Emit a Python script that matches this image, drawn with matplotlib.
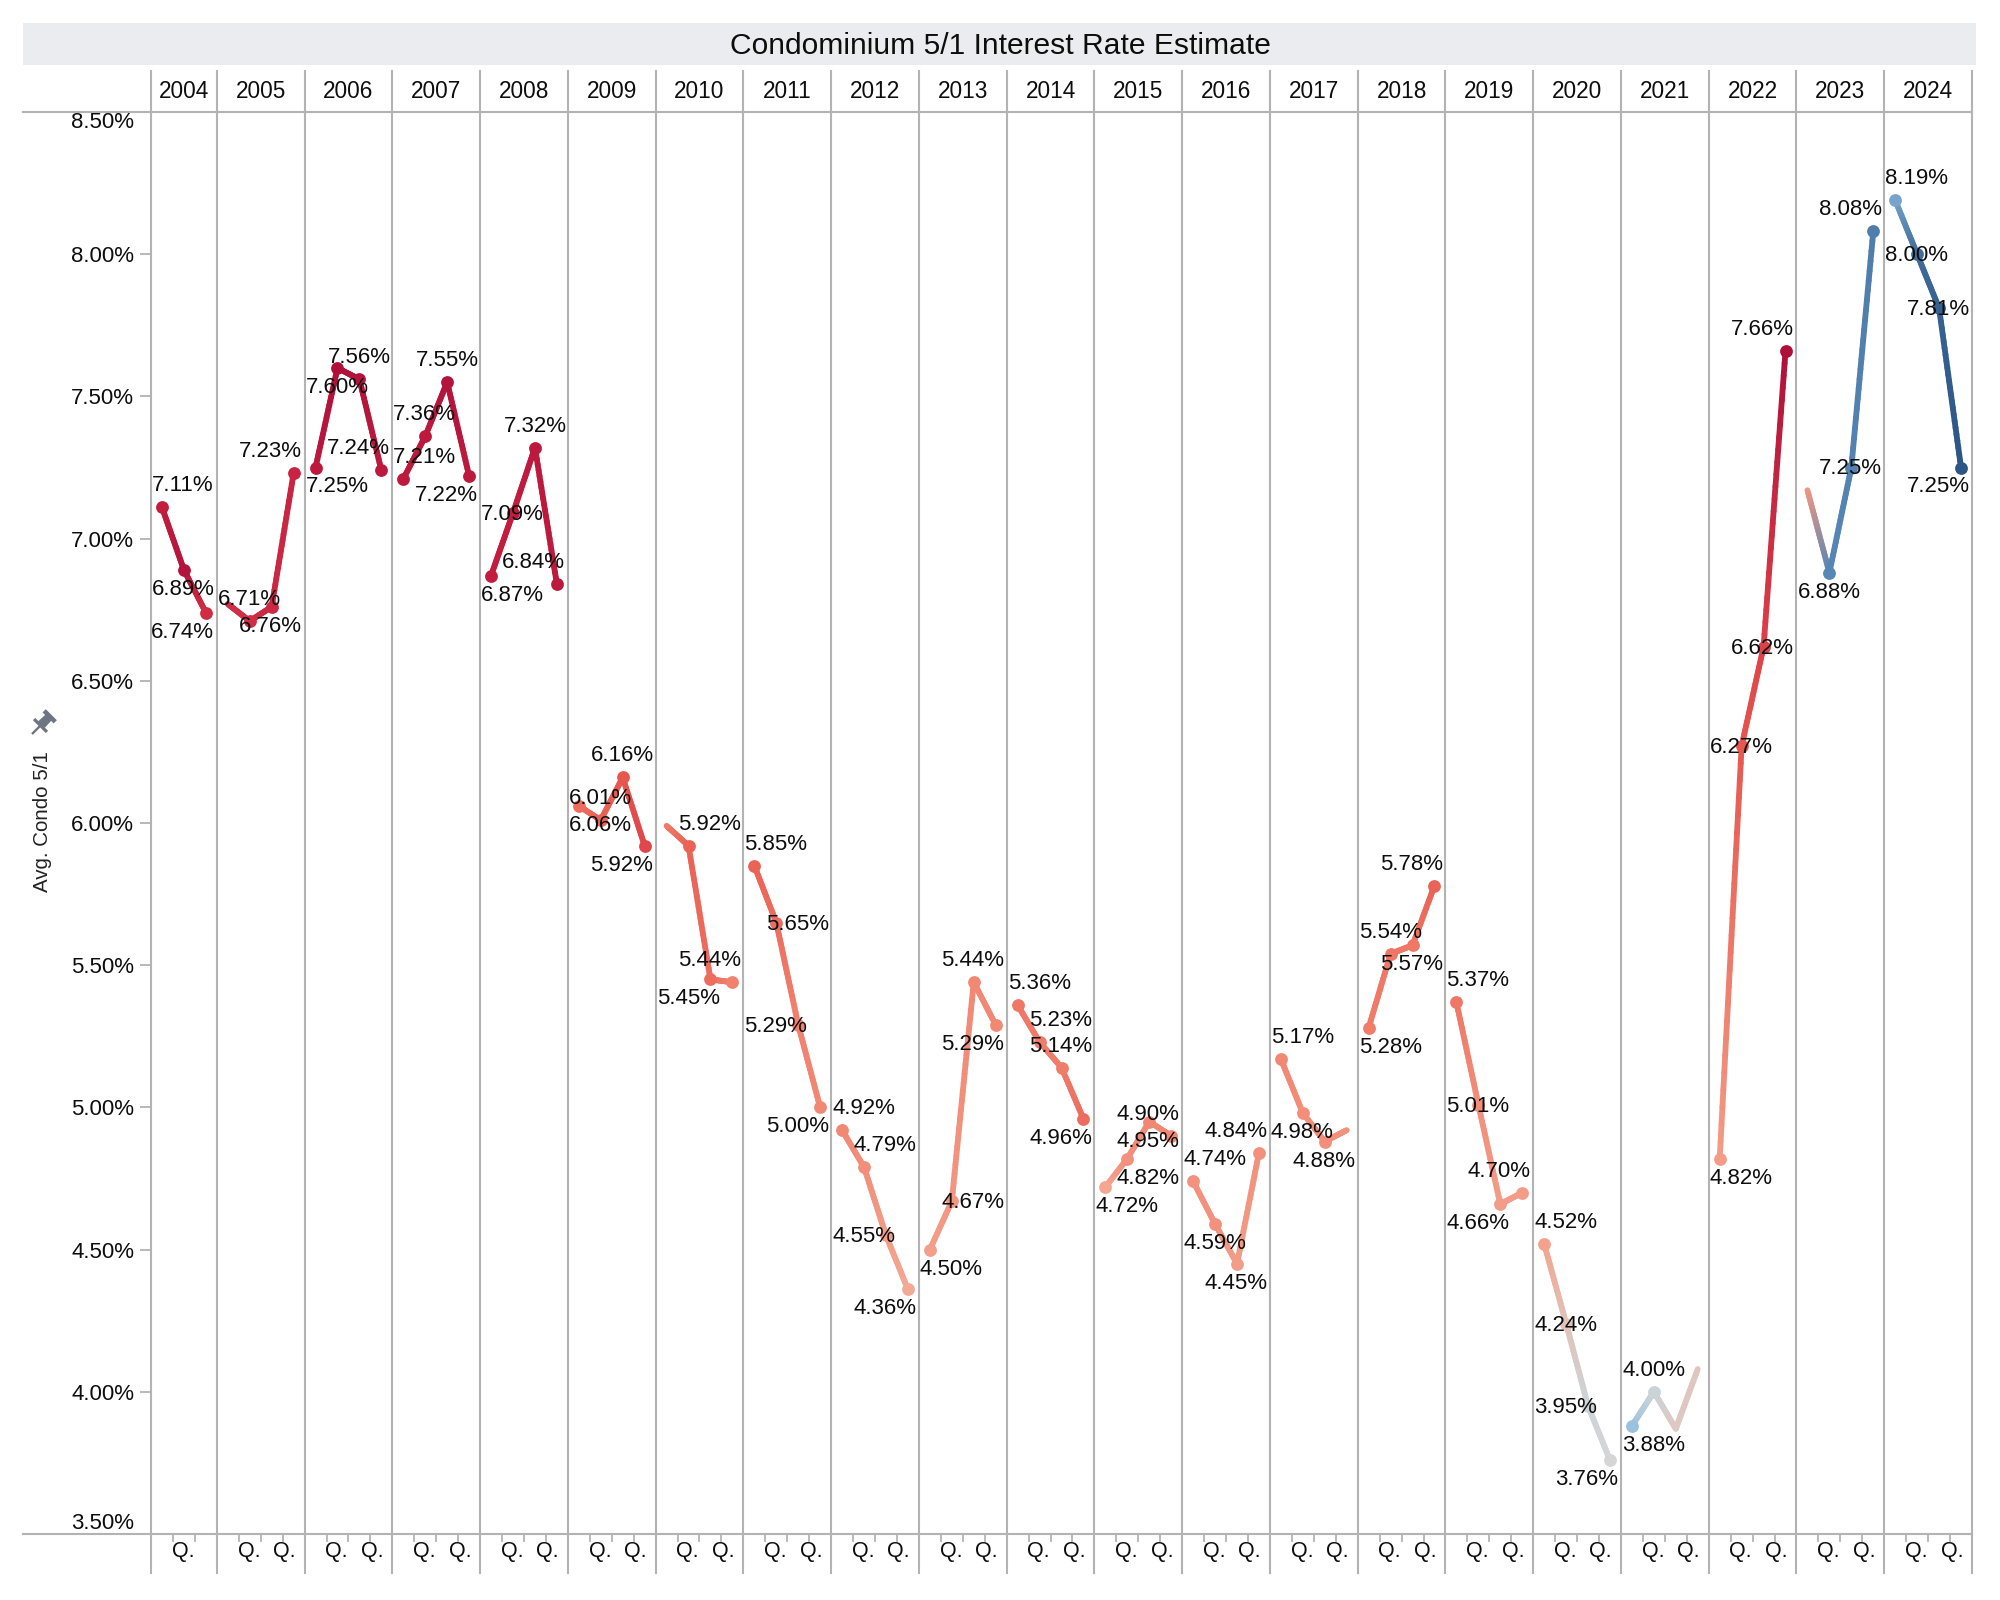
import numpy as np
import matplotlib
matplotlib.use('Agg')
import matplotlib.pyplot as plt
from matplotlib.collections import LineCollection
from matplotlib.colors import LinearSegmentedColormap
from matplotlib.patches import Rectangle, Polygon

plt.rcParams['font.family'] = ['Liberation Sans', 'DejaVu Sans']

# ---------------- data ----------------
years = [2004, 2005, 2006, 2007, 2008, 2009, 2010, 2011, 2012, 2013, 2014,
         2015, 2016, 2017, 2018, 2019, 2020, 2021, 2022, 2023, 2024]
rate_q1 = [None, 6.77, 7.25, 7.21, 6.87, 6.06, 5.99, 5.85, 4.92, 4.50, 5.36,
           4.72, 4.74, 5.17, 5.28, 5.37, 4.52, 3.88, 4.82, 7.17, 8.19]
rate_q2 = [7.11, 6.71, 7.60, 7.36, 7.09, 6.01, 5.92, 5.65, 4.79, 4.67, 5.23,
           4.82, 4.59, 4.98, 5.54, 5.01, 4.24, 4.00, 6.27, 6.88, 8.00]
rate_q3 = [6.89, 6.76, 7.56, 7.55, 7.32, 6.16, 5.45, 5.29, 4.55, 5.44, 5.14,
           4.95, 4.45, 4.88, 5.57, 4.66, 3.95, 3.87, 6.62, 7.25, 7.81]
rate_q4 = [6.74, 7.23, 7.24, 7.22, 6.84, 5.92, 5.44, 5.00, 4.36, 5.29, 4.96,
           4.90, 4.84, 4.92, 5.78, 4.70, 3.76, 4.08, 7.66, 8.08, 7.25]
# colour measure (diverging, -1 blue ... +1 red)
color_q1 = [None, 0.78, 0.88, 0.88, 0.85, 0.55, 0.50, 0.58, 0.45, 0.33, 0.52,
            0.30, 0.40, 0.45, 0.50, 0.52, 0.32, -0.30, 0.35, 0.38, -0.40]
color_q2 = [0.85, 0.78, 0.95, 0.88, 0.85, 0.58, 0.58, 0.55, 0.42, 0.38, 0.50,
            0.40, 0.40, 0.42, 0.52, 0.42, 0.12, -0.05, 0.62, -0.50, -0.65]
color_q3 = [0.92, 0.80, 0.92, 0.92, 0.88, 0.62, 0.55, 0.48, 0.35, 0.45, 0.50,
            0.45, 0.35, 0.42, 0.52, 0.35, -0.04, 0.08, 0.70, -0.52, -0.72]
color_q4 = [0.78, 0.82, 0.88, 0.88, 0.88, 0.68, 0.48, 0.45, 0.28, 0.45, 0.55,
            0.45, 0.40, 0.40, 0.58, 0.35, 0.00, 0.10, 0.95, -0.55, -0.80]
y_ticks = [3.5, 4.0, 4.5, 5.0, 5.5, 6.0, 6.5, 7.0, 7.5, 8.0, 8.5]
title = 'Condominium 5/1 Interest Rate Estimate'
y_title = 'Avg. Condo 5/1'

# ---------------- label placement (style) ----------------
# h: l=left of pane, c=centred, r=right of pane ; v: a=above, b=below, m=middle ; -- none
label_style = [
    ['--', 'la', 'lb', 'rb'], ['--', 'la', 'rb', 'ra'], ['lb', 'lb', 'ca', 'ra'],
    ['la', 'la', 'ca', 'rb'], ['lb', 'lm', 'ca', 'ra'], ['lb', 'la', 'ca', 'rb'],
    ['--', 'ra', 'lb', 'ra'], ['la', 'rm', 'lm', 'rb'], ['la', 'ra', 'lm', 'rb'],
    ['lb', 'rm', 'ra', 'rb'], ['la', 'ra', 'ra', 'rb'], ['lb', 'rb', 'rb', 'ra'],
    ['la', 'lb', 'rb', 'ra'], ['la', 'lb', 'rb', '--'], ['lb', 'la', 'rb', 'ra'],
    ['la', 'lm', 'lb', 'ra'], ['la', 'lm', 'lm', 'rb'], ['lb', 'ca', '--', '--'],
    ['lb', 'lm', 'rm', 'ra'], ['--', 'lb', 'rm', 'ra'], ['la', 'lm', 'rm', 'rb'],
]

W, H = 2000, 1600
fig = plt.figure(figsize=(W / 100, H / 100), dpi=100)
fig.patch.set_facecolor('white')

def fx(px):
    return px / W

def fy(py):
    return 1 - py / H

L, R, T, B = 151, 1972, 112, 1534
ax = fig.add_axes([fx(L), fy(B), (R - L) / W, (B - T) / H])
ax.set_facecolor('none')
n_slots = 3 + 4 * (len(years) - 1)
ax.set_xlim(0, n_slots)
ax.set_ylim(3.5, 8.5)
for s in ax.spines.values():
    s.set_visible(False)
ax.set_xticks([])

GRID = '#b3b3b3'
TXT = '#0d0d0d'

def pane_left(i):
    return 0 if i == 0 else 3 + (i - 1) * 4

def pane_right(i):
    return 3 if i == 0 else pane_left(i) + 4

def slot_x(i, q):
    if i == 0:
        return q - 1 + 0.5
    return pane_left(i) + q + 0.5

cmap = LinearSegmentedColormap.from_list('rb', [
    (0.0, '#1f4675'), (0.1, '#2c5685'), (0.25, '#5686b5'), (0.35, '#9cc2e0'),
    (0.5, '#d6d6d6'), (0.65, '#f4a690'), (0.75, '#f07e6b'), (0.8, '#e95e52'),
    (0.85, '#de4249'), (0.925, '#c21d3f'), (1.0, '#a50a37')])

def col(m):
    return np.array(cmap((m + 1) / 2)[:3])

# separators (vertical pane borders)
ext_top = (B - 71) / (B - T)
ext_bot = (B - 1573) / (B - T)
for i in range(len(years)):
    ax.plot([pane_left(i)] * 2, [ext_bot, ext_top], color=GRID, lw=1.5,
            transform=ax.get_xaxis_transform(), clip_on=False, zorder=1)
ax.plot([n_slots] * 2, [ext_bot, ext_top], color=GRID, lw=1.5,
        transform=ax.get_xaxis_transform(), clip_on=False, zorder=1)
# horizontal lines (top of plot, bottom axis)
x_left_ax = (23 - L) / (R - L)
for yy in (0, 1):
    ax.plot([x_left_ax, 1], [yy, yy], color=GRID, lw=1.5, transform=ax.transAxes,
            clip_on=False, zorder=1)

# year headers, bottom ticks and Q labels
for i, yr in enumerate(years):
    pl, pr = pane_left(i), pane_right(i)
    ax.text((pl + pr) / 2, (B - 91) / (B - T), str(yr), ha='center', va='center',
            fontsize=16.3, color=TXT, transform=ax.get_xaxis_transform())
    for k in range(1, int(pr - pl)):
        ax.plot([pl + k] * 2, [0, -7 / (B - T)], color=GRID, lw=1.3,
                transform=ax.get_xaxis_transform(), clip_on=False)
    offs = [1.46] if i == 0 else [1.46, 3.08]
    for o in offs:
        ax.text(pl + o, -(1552 - B) / (B - T), 'Q.', ha='center', va='center',
                fontsize=15.5, color=TXT, transform=ax.get_xaxis_transform())

# y axis
ax.set_yticks(y_ticks)
ax.set_yticklabels(['%.2f%%' % v for v in y_ticks])
ax.tick_params(axis='y', length=8, width=1.3, color=GRID, pad=4,
               labelsize=16, labelcolor=TXT)
tl = ax.get_yticklabels()
tl[0].set_va('bottom')
tl[-1].set_va('top')
ax.yaxis.get_major_ticks()[0].tick1line.set_visible(False)
ax.yaxis.get_major_ticks()[-1].tick1line.set_visible(False)

# lines, dots, labels
rates = [rate_q1, rate_q2, rate_q3, rate_q4]
colors = [color_q1, color_q2, color_q3, color_q4]
N = 24
for i, yr in enumerate(years):
    xs, ys, cs, styles = [], [], [], []
    for q in range(4):
        v = rates[q][i]
        if v is None:
            continue
        xs.append(slot_x(i, q))
        ys.append(v)
        cs.append(col(colors[q][i]))
        styles.append(label_style[i][q])
    segs, segc = [], []
    for j in range(len(xs) - 1):
        for k in range(N):
            t0, t1 = k / N, (k + 1) / N
            p0 = (xs[j] + (xs[j + 1] - xs[j]) * t0, ys[j] + (ys[j + 1] - ys[j]) * t0)
            p1 = (xs[j] + (xs[j + 1] - xs[j]) * t1, ys[j] + (ys[j + 1] - ys[j]) * t1)
            segs.append([p0, p1])
            tm = (t0 + t1) / 2
            segc.append(cs[j] * (1 - tm) + cs[j + 1] * tm)
    lc = LineCollection(segs, colors=segc, linewidths=4.2, capstyle='round',
                        joinstyle='round', zorder=3)
    ax.add_collection(lc)
    for x, v, c, st in zip(xs, ys, cs, styles):
        if st == '--':
            continue
        ax.scatter([x], [v], s=85, color=c, zorder=4, linewidths=0)
        h, vv = st[0], st[1]
        dy_px = {'a': -24, 'b': 17, 'm': -1}[vv]
        if h == 'l':
            xa, ha, dx = pane_left(i), 'left', 1.0
        elif h == 'r':
            xa, ha, dx = pane_right(i), 'right', -2.5
        else:
            xa, ha, dx = x, 'center', 0
        # baseline sits ~8 px below visual centre of digits
        ax.annotate('%.2f%%' % v, xy=(xa, v), xytext=(dx * 0.72, -(dy_px + 8) * 0.72),
                    textcoords='offset points', ha=ha, va='baseline',
                    fontsize=16, color=TXT, zorder=5, annotation_clip=False)

# title band
fig.patches.append(Rectangle((fx(23), fy(65)), (1976 - 23) / W, (65 - 23) / H,
                             transform=fig.transFigure, facecolor='#ebecef',
                             edgecolor='none', zorder=0))
fig.text(fx(1000), fy(46), title, ha='center', va='center', fontsize=21.6, color=TXT)

# y axis title + pin icon
fig.text(fx(43), fy(822), y_title, rotation=90, ha='center', va='center',
         fontsize=14.8, color='#222222')

def pin_poly(pts, cx, cy, ang, sc):
    a = np.deg2rad(ang)
    out = []
    for u, v in pts:
        u, v = u * sc, v * sc
        xr = u * np.cos(a) - v * np.sin(a)
        yr = u * np.sin(a) + v * np.cos(a)
        out.append((fx(cx + xr), fy(cy - yr)))
    return out

pcx, pcy, pang, psc = 32, 734, -45, 1.3
pin_col = '#6e7582'
for shape in ([(-0.9, 0), (0.9, 0), (0.9, 9), (-0.9, 9)],
              [(-7, 8), (7, 8), (7, 10.5), (-7, 10.5)],
              [(-3.6, 10), (3.6, 10), (3.2, 18), (-3.2, 18)],
              [(-6, 17.5), (6, 17.5), (6, 21), (-6, 21)]):
    fig.patches.append(Polygon(pin_poly(shape, pcx, pcy, pang, psc), closed=True,
                               transform=fig.transFigure, facecolor=pin_col,
                               edgecolor='none'))

fig.savefig('out.png', dpi=100)
